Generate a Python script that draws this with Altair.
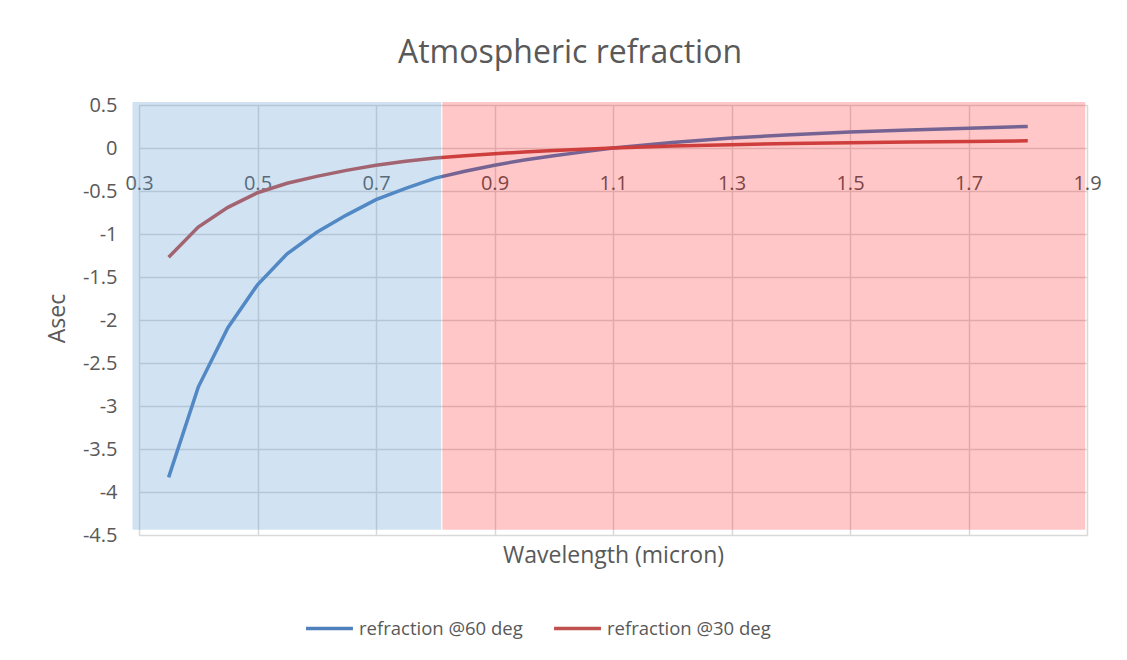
import altair as alt
import pandas as pd

# Wavelength (micron)
wavelength = [0.35, 0.40, 0.45, 0.50, 0.55, 0.60, 0.65, 0.70, 0.75, 0.80,
              0.85, 0.90, 0.95, 1.00, 1.05, 1.10, 1.20, 1.30, 1.40, 1.50,
              1.60, 1.70, 1.80]
# refraction @60 deg (asec)
refr60 = [-3.83, -2.78, -2.09, -1.59, -1.23, -0.98, -0.78, -0.60, -0.47, -0.35,
          -0.27, -0.20, -0.14, -0.09, -0.045, 0.0, 0.065, 0.115, 0.155, 0.185,
          0.21, 0.23, 0.25]
# refraction @30 deg (asec)
refr30 = [-1.27, -0.92, -0.69, -0.52, -0.41, -0.33, -0.26, -0.20, -0.155, -0.115,
          -0.09, -0.066, -0.047, -0.03, -0.015, 0.0, 0.022, 0.038, 0.052, 0.062,
          0.07, 0.077, 0.083]

series_names = ["refraction @60 deg", "refraction @30 deg"]
series_colors = ["#4F81BD", "#C0504D"]

# shaded wavelength bands
band_start = [0.289, 0.812]
band_end = [0.810, 1.897]
band_bottom = [-4.44, -4.44]
band_top = [0.535, 0.535]
band_fill = ["#5B9BD5", "#FF0000"]
band_opacity = [0.28, 0.22]

x_ticks = [0.3, 0.5, 0.7, 0.9, 1.1, 1.3, 1.5, 1.7, 1.9]
y_ticks = [-4.5, -4, -3.5, -3, -2.5, -2, -1.5, -1, -0.5, 0, 0.5]

FONT = "Open Sans"
GRAY = "#595959"

rows = []
for w, a, b in zip(wavelength, refr60, refr30):
    rows.append({"wl": w, "val": a, "series": series_names[0]})
    rows.append({"wl": w, "val": b, "series": series_names[1]})
lines_df = pd.DataFrame(rows)

bands_df = pd.DataFrame({"x0": band_start, "x1": band_end, "y0": band_bottom,
                         "y1": band_top, "fill": band_fill, "op": band_opacity})

xscale = alt.Scale(domain=[0.3, 1.9], nice=False, zero=False)
yscale = alt.Scale(domain=[-4.5, 0.5], nice=False, zero=False)

lines = alt.Chart(lines_df).mark_line(strokeWidth=3.5).encode(
    x=alt.X("wl:Q", scale=xscale, axis=alt.Axis(
        values=x_ticks, labelExpr="'' + datum.value", grid=True,
        gridColor="#D9D9D9", gridWidth=1.5, domain=False, ticks=False,
        labelFlush=False, labelOverlap=False,
        offset=-386, labelPadding=24, labelFontSize=20, labelColor=GRAY,
        labelFont=FONT, title="Wavelength (micron)", titleFont=FONT,
        titleFontSize=23, titleFontWeight="normal", titleColor=GRAY,
        titleY=406, titleBaseline="middle")),
    y=alt.Y("val:Q", scale=yscale, axis=alt.Axis(
        values=y_ticks, labelExpr="'' + datum.value", grid=True,
        gridColor="#D9D9D9", gridWidth=1.5, domain=False, ticks=False,
        labelFlush=False, labelOverlap=False,
        labelPadding=22, labelFontSize=20, labelColor=GRAY, labelFont=FONT,
        title="Asec", titleFont=FONT, titleFontSize=23,
        titleFontWeight="normal", titleColor=GRAY, titleX=-82, titleY=213,
        titleBaseline="middle", titleAlign="center")),
    color=alt.Color("series:N", scale=alt.Scale(domain=series_names, range=series_colors),
                    sort=series_names,
                    legend=alt.Legend(title=None, orient="none", legendX=165, legendY=498,
                                      direction="horizontal", symbolType="stroke",
                                      symbolSize=2200, symbolStrokeWidth=3.5,
                                      labelFont=FONT, labelFontSize=18.5, labelColor=GRAY,
                                      labelOffset=4, columnPadding=24, labelLimit=400)),
    order="wl:Q",
)

bands = alt.Chart(bands_df).mark_rect().encode(
    x=alt.X("x0:Q", scale=xscale),
    x2="x1:Q",
    y=alt.Y("y0:Q", scale=yscale),
    y2="y1:Q",
    fill=alt.Fill("fill:N", scale=None),
    opacity=alt.Opacity("op:Q", scale=None),
)

chart = alt.layer(lines, bands).properties(
    width=948, height=430,
    title=alt.TitleParams("Atmospheric refraction", font=FONT, fontSize=32,
                          fontWeight="normal", color=GRAY, anchor="middle",
                          dx=-43, dy=3, offset=3, baseline="alphabetic"),
    autosize=alt.AutoSizeParams(type="none"),
    padding={"left": 131, "top": 97, "right": 32, "bottom": 117},
).configure_view(stroke=None).configure(background="white")

chart.save("out.html", embed_options={"renderer": "svg", "actions": False})
